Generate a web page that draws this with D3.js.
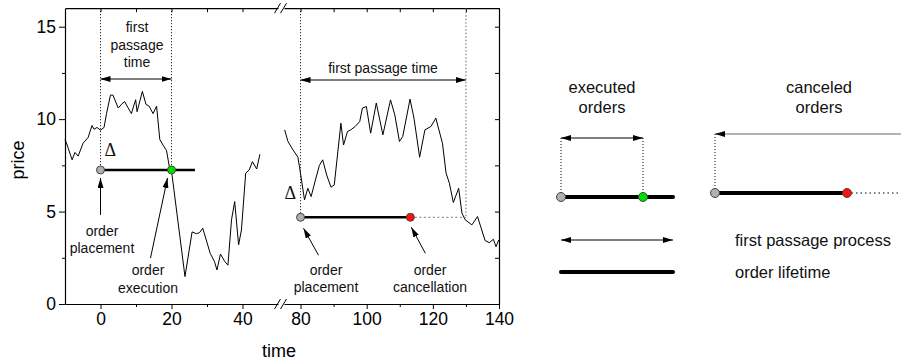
<!DOCTYPE html>
<html>
<head>
<meta charset="utf-8">
<script src="https://cdn.jsdelivr.net/npm/d3@7"></script>
<style>
body{margin:0;background:#fff;}
svg{font-family:"Liberation Sans",Arial,sans-serif;}
</style>
</head>
<body>
<div class="box"></div>
<script>
// price path before the break
const leftTime=[-10,-9.4,-8,-7.2,-6.3,-4.9,-3.5,-2.4,-1.8,-1,0,1,1.7,2.8,3.5,5,5.9,6.8,7.8,8.7,9.9,10.3,11.8,12.8,13.7,14.8,15.8,16.7,17.6,18.6,19.5,20,23.8,25.8,27,27.9,28.8,30.9,32.1,32.8,33.8,35,35.9,36.9,37.8,38.9,39.7,40.9,41.9,42.8,44,44.9];
const leftPrice=[8.9,8.6,7.8,8.2,8.0,8.7,9.0,9.65,9.45,9.55,9.4,9.55,10.3,11.3,11.3,10.6,10.8,10.95,10.6,10.3,11.05,10.4,11.5,10.8,10.7,10.3,10.7,8.9,8.6,8.3,7.3,7.2,1.48,3.9,3.8,3.86,4.1,2.74,2.3,1.84,2.7,2.3,2.1,4.55,5.54,3.2,4.0,7.08,7.25,7.7,7.3,8.1];
// price path after the break
const rightTime=[75.2,76.2,77.7,79.2,79.7,81.2,82.2,83.2,84.5,85.7,86.7,87.9,89.2,90.2,92.2,93,94.2,95.2,96.5,97.9,98.7,99.9,101.2,102.9,104.9,107.2,108.5,109.9,110.9,113.1,114.3,116,117.6,119.4,120.9,122.9,124,125,126.2,127.8,128.8,129.8,131.8,133.5,135.8,137.1,138.3,139.1,139.9];
const rightPrice=[9.42,8.79,8.34,7.94,7.4,5.63,6.26,5.81,6.71,7.5,7.8,6.98,6.32,6.44,9.78,8.6,9.33,9.42,9.6,9.87,10.6,10.68,9.24,10.87,9.15,11.04,10.23,8.79,9.06,11.08,10.05,7.94,9.42,9.6,10.05,8.7,7.08,6.53,5.49,6.26,4.91,4.55,4.28,4.73,3.43,3.32,3.5,3.1,3.46];

const yTicks=[0,5,10,15];
const yMinor=[2.5,7.5,12.5];
const leftTicks=[0,20,40];
const leftMinor=[10,30];
const rightTicks=[80,100,120,140];
const rightMinor=[90,110,130];

// the two orders
const executed={placed:0,filled:20,end:26.6,price:7.25};
const canceled={placed:80,canceled:113.2,passage:130,price:4.69};

const svg=d3.select('.box')
    .append('svg')
    .attr('width',901)
    .attr('height',364);

const y=d3.scaleLinear().domain([0,16]).range([304,8.2]);
const xL=d3.scaleLinear().domain([-10,50]).range([65,278]);
const xR=d3.scaleLinear().domain([75,140]).range([284,499]);

const defs=svg.append('defs');
const mk=(id,col)=>{
    defs.append('marker')
        .attr('id',id)
        .attr('viewBox','0 0 10 6')
        .attr('refX',10).attr('refY',3)
        .attr('markerWidth',10).attr('markerHeight',6)
        .attr('markerUnits','userSpaceOnUse')
        .attr('orient','auto-start-reverse')
      .append('path')
        .attr('d','M0,0L10,3L0,6z')
        .attr('fill',col);
};
mk('arr','#000');

// axes
const fmt=d3.format('d');
const axisStyle=(g,fs)=>{
    g.selectAll('.domain').attr('stroke','#000').attr('stroke-width',1.2);
    g.selectAll('.tick line').attr('stroke','#000');
    g.selectAll('.tick text').attr('font-size',fs).attr('fill','#000')
        .attr('font-family','"Liberation Sans",Arial,sans-serif');
};
const left=svg.append('g').attr('transform','translate(65,0)')
    .call(d3.axisLeft(y).tickValues(yTicks).tickSize(6).tickSizeOuter(0).tickPadding(3).tickFormat(fmt));
axisStyle(left,17.5);
svg.append('g').attr('transform','translate(65,0)')
    .call(d3.axisLeft(y).tickValues(yMinor).tickSize(3).tickFormat(''))
    .call(g=>g.select('.domain').remove());
const right=svg.append('g').attr('transform','translate(499,0)')
    .call(d3.axisRight(y).tickValues(yTicks.concat(yMinor)).tickSize(-4).tickSizeOuter(0).tickFormat(''));
axisStyle(right,0);

const bottomAxis=(sc,major,minor)=>{
    const g=svg.append('g').attr('transform','translate(0,304)')
        .call(d3.axisBottom(sc).tickValues(major).tickSize(5).tickSizeOuter(0).tickPadding(4).tickFormat(fmt));
    axisStyle(g,17.5);
    svg.append('g').attr('transform','translate(0,304)')
        .call(d3.axisBottom(sc).tickValues(minor).tickSize(3).tickFormat(''))
        .call(g=>g.select('.domain').remove());
    const t=svg.append('g').attr('transform','translate(0,8.2)')
        .call(d3.axisTop(sc).tickValues(major.concat(minor)).tickSize(-4).tickSizeOuter(0).tickFormat(''));
    axisStyle(t,0);
};
bottomAxis(xL,leftTicks,leftMinor);
bottomAxis(xR,rightTicks,rightMinor);

// axis break marks
[8.2,304].forEach(yy=>{
    [277.5,283.5].forEach(cx=>{
        svg.append('line')
            .attr('x1',cx-3).attr('y1',yy+5)
            .attr('x2',cx+3).attr('y2',yy-5)
            .attr('stroke','#000').attr('stroke-width',1);
    });
});

svg.append('text').text('price')
    .attr('transform','translate(24,160) rotate(-90)')
    .attr('text-anchor','middle').attr('font-size',18);
svg.append('text').text('time')
    .attr('x',279).attr('y',357)
    .attr('text-anchor','middle').attr('font-size',18);

// price series
const lineL=d3.line().x(d=>xL(d[0])).y(d=>y(d[1]));
const lineR=d3.line().x(d=>xR(d[0])).y(d=>y(d[1]));
svg.append('path').datum(d3.zip(leftTime,leftPrice))
    .attr('d',lineL).attr('fill','none').attr('stroke','#000').attr('stroke-width',1);
svg.append('path').datum(d3.zip(rightTime,rightPrice))
    .attr('d',lineR).attr('fill','none').attr('stroke','#000').attr('stroke-width',1);

const seg=(x1,y1,x2,y2,opt={})=>{
    const l=svg.append('line')
        .attr('x1',x1).attr('y1',y1).attr('x2',x2).attr('y2',y2)
        .attr('stroke',opt.col||'#000')
        .attr('stroke-width',opt.w||1);
    if(opt.dash) l.attr('stroke-dasharray',opt.dash);
    if(opt.start) l.attr('marker-start','url(#arr)');
    if(opt.end) l.attr('marker-end','url(#arr)');
    return l;
};
const dot=(cx,cy,col,r)=>svg.append('circle')
    .attr('cx',cx).attr('cy',cy).attr('r',r||4)
    .attr('fill',col).attr('stroke','#444').attr('stroke-width',1);
const label=(lines,cx,y0,fs)=>{
    lines.forEach((s,i)=>svg.append('text').text(s)
        .attr('x',cx).attr('y',y0+i*(fs+3.5))
        .attr('text-anchor','middle').attr('font-size',fs).attr('fill','#111'));
};
const delta=(x0,y0)=>svg.append('text').text('Δ')
    .attr('x',x0).attr('y',y0)
    .attr('font-family','"Liberation Serif","Times New Roman",serif')
    .attr('font-size',18).attr('fill','#111');

// executed order
const ep=y(executed.price);
const e0=xL(executed.placed), e1=xL(executed.filled);
seg(e0,y(16),e0,ep,{dash:'1,2'});
seg(e1,y(16),e1,ep,{dash:'1,2'});
seg(e0,79,e1,79,{start:true,end:true});
label(['first','passage','time'],137,32,14);
seg(e0,ep,xL(executed.end),ep,{w:2.5});
dot(e0,ep,'#b0b0b0');
dot(e1,ep,'#00e000');
delta(e0+4,ep-14);
seg(e0,ep+45,e0,ep+8,{end:true});
label(['order','placement'],102,235.5,14);
seg(e1-21,ep+88,e1-4,ep+8,{end:true});
label(['order','execution'],148,275,14);

// canceled order
const cp=y(canceled.price);
const c0=xR(canceled.placed), c1=xR(canceled.canceled), c2=xR(canceled.passage);
seg(c0,y(16),c0,cp,{dash:'1,2'});
seg(c2,y(16),c2,cp,{dash:'1.5,2',col:'#666'});
seg(c0,80,c2,80,{start:true,end:true});
svg.append('text').text('first passage time')
    .attr('x',383).attr('y',73).attr('text-anchor','middle').attr('font-size',14).attr('fill','#111');
seg(c1,cp,c2,cp,{dash:'2,2.5',col:'#777'});
seg(c0,cp,c1,cp,{w:2.5});
dot(c0,cp,'#b0b0b0');
dot(c1,cp,'#ff1010');
delta(c0-16,cp-18);
seg(c0+18,cp+38,c0+3,cp+11,{end:true});
label(['order','placement'],326,274.5,14);
seg(c1+15,cp+36,c1+1,cp+10,{end:true});
label(['order','cancellation'],430,274.5,14);

// legend / schematic
label(['executed','orders'],602,92.5,16.5);
label(['canceled','orders'],819,92.5,16.5);
seg(561,138,643,138,{start:true,end:true});
seg(561,138,561,197,{dash:'1,2'});
seg(643,138,643,197,{dash:'1,2'});
seg(561,197,673,197,{w:4}).attr('stroke-linecap','round');
dot(561,197,'#b0b0b0',4.5);
dot(643,197,'#00e000',4.5);

seg(901,134,715,134,{end:true,col:'#666'});
seg(715,134,715,193,{dash:'1,2'});
seg(847,193,901,193,{dash:'1.5,3'});
seg(715,193,847,193,{w:4});
dot(715,193,'#b0b0b0',4.5);
dot(847,193,'#ff1010',4.5);

seg(561,240,673,240,{start:true,end:true});
svg.append('text').text('first passage process')
    .attr('x',735).attr('y',246).attr('font-size',16.5).attr('fill','#111');
seg(561,272,673,272,{w:4}).attr('stroke-linecap','round');
svg.append('text').text('order lifetime')
    .attr('x',735).attr('y',278).attr('font-size',16.5).attr('fill','#111');
</script>
</body>
</html>
